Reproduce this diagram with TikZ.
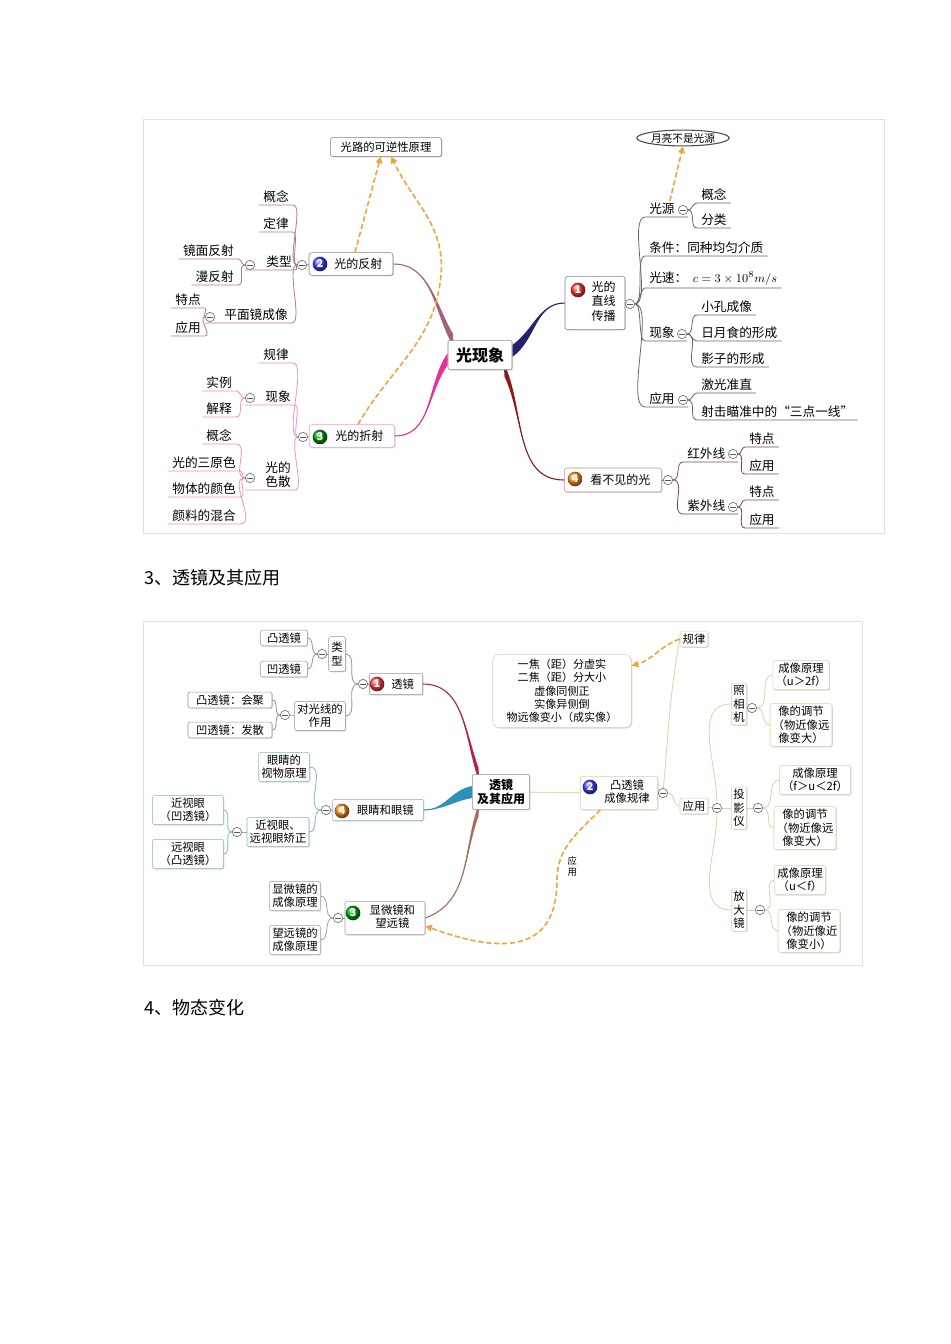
\documentclass[tikz,border=0pt]{standalone}
\usepackage{fontspec}
\setmainfont{Noto Sans CJK SC}
\usepackage{tikz}
\usetikzlibrary{arrows.meta, positioning, calc, shapes.geometric, shadows, backgrounds}

\definecolor{juhuang}{HTML}{F2A33A}
\definecolor{zangqing}{HTML}{22226E}
\definecolor{ouhe}{HTML}{A0607E}
\definecolor{yanhong}{HTML}{E4329A}
\definecolor{anhong}{HTML}{8A1B1B}
\definecolor{meihong}{HTML}{B0244E}
\definecolor{qinglan}{HTML}{2A92B4}
\definecolor{zongse}{HTML}{A86C5C}
\definecolor{mise}{HTML}{E2DCB6}
\definecolor{bian1}{HTML}{A8889A}
\definecolor{bian2}{HTML}{D8D2AA}
\definecolor{bian3}{HTML}{A0A0A0}
\definecolor{bian4}{HTML}{7EB6C6}

% tapered main branch: from, to, colour, out, in
\newcommand\cuxian[5]{%
  \fill[#3] ($(#1)+(0,6)$) to[out=#4,in=#5] (#2) to[out=#5,in=#4] ($(#1)+(0,-6)$) -- cycle;
  \draw[#3, line width=.8pt] (#1) to[out=#4,in=#5] (#2);}

\begin{document}
\begin{tikzpicture}[x=0.75pt, y=0.75pt,
    zhu/.style={draw=black!45, fill=white, rounded corners=1pt, inner sep=3pt, align=center,
                font=\fontsize{12}{14}\selectfont\bfseries,
                drop shadow={shadow xshift=.8pt, shadow yshift=-.8pt, opacity=.3}},
    kuang/.style={draw=black!50, fill=white, rounded corners=2pt, inner sep=2pt, align=center,
                  font=\fontsize{9}{11}\selectfont,
                  drop shadow={shadow xshift=.7pt, shadow yshift=-.7pt, opacity=.3}},
    kuang2/.style={kuang, font=\fontsize{8.5}{10}\selectfont, rounded corners=1.5pt},
    ye/.style={inner xsep=3pt, inner ysep=1.5pt, align=center, font=\fontsize{9.5}{11}\selectfont},
    shou/.style={circle, draw=black!55, fill=white, minimum size=7pt, inner sep=0pt, line width=.5pt,
                 path picture={\draw[black!65, line width=.6pt]
                   ([xshift=-2pt]path picture bounding box.center) -- ([xshift=2pt]path picture bounding box.center);}},
    biao/.style={circle, ball color=#1, minimum size=11pt, inner sep=0pt, text=white,
                 font=\fontsize{8}{8}\selectfont\bfseries},
    xu/.style={juhuang, dash pattern=on 4pt off 2pt, line width=1.2pt, -{Triangle[length=5pt, width=5pt]}},
    xian1/.style={draw=black!60, line width=.6pt},
    xian2/.style={draw=ouhe!85, line width=.6pt},
    xian3/.style={draw=yanhong!55, line width=.6pt},
    xian4/.style={draw=anhong!55!gray, line width=.6pt},
    xian21/.style={draw=bian1, line width=.6pt},
    xian22/.style={draw=bian2, line width=.6pt},
    xian23/.style={draw=bian3, line width=.6pt},
    xian24/.style={draw=bian4, line width=.6pt}
  ]
  \useasboundingbox (0,0) rectangle (950,-1344);
  \begin{scope}[on background layer]
    \fill[white] (0,0) rectangle (950,-1344);
    \draw[black!12] (143,-119) rectangle (884,-533);
    \draw[black!12] (143,-621) rectangle (862,-965);
  \end{scope}

  \node[anchor=west, inner sep=0pt, font=\fontsize{13.5}{16}\selectfont] (biaoti3) at (144,-578) {3、透镜及其应用};
  \node[anchor=west, inner sep=0pt, font=\fontsize{13.5}{16}\selectfont] (biaoti4) at (144,-1008) {4、物态变化};

  % ---------- 光现象 ----------
  \node[zhu, minimum width=48pt, minimum height=22pt] (gxx) at (480,-355) {光现象};
  \node[draw=black!50, fill=white, rounded corners=1pt, inner sep=1.5pt, minimum width=83pt, minimum height=14pt,
        font=\fontsize{8.5}{10}\selectfont, drop shadow={shadow xshift=.8pt, shadow yshift=-.8pt, opacity=.4}]
        (kn) at (386,-147) {光路的可逆性原理};
  \node[ellipse, draw=black!70, line width=.8pt, fill=white, inner sep=.5pt, font=\fontsize{8}{9}\selectfont] (yl) at (683,-138) {月亮不是光源};

  \node[kuang, minimum width=45pt, minimum height=40pt] (f1) at (595,-303)
       {\hspace{13pt}\begin{tabular}{@{}c@{}}光的\\直线\\传播\end{tabular}};
  \node[biao=red!80] (h1) at (578,-290) {1};
  \node[shou] (s1) at (630,-304) {};
  \node[kuang, minimum width=63pt, minimum height=17pt] (f2) at (351,-264) {\hspace{11pt}光的反射};
  \node[biao=blue!75] (h2) at (320,-264) {2};
  \node[shou] (s2) at (302,-265) {};
  \node[kuang, draw=yanhong!50, minimum width=64pt, minimum height=17pt] (f3) at (352,-436) {\hspace{11pt}光的折射};
  \node[biao=green!60!black] (h3) at (320,-437) {3};
  \node[shou] (s3) at (303,-437) {};
  \node[kuang, draw=anhong!50, minimum width=73pt, minimum height=18pt] (f4) at (613,-480) {\hspace{11pt}看不见的光};
  \node[biao=orange!90] (h4) at (575,-479) {4};
  \node[shou] (s4) at (668,-480) {};

  % 1 光的直线传播
  \node[ye, anchor=south west] (gy) at (645,-217) {光源};
  \node[shou] (sgy) at (683,-210) {};
  \node[ye, anchor=south west] (gy1) at (697,-203) {概念};
  \node[ye, anchor=south west] (gy2) at (697,-228) {分类};
  \node[ye, anchor=south west] (tj) at (645,-256) {条件：同种均匀介质};
  \node[ye, anchor=south west] (gs) at (645,-288) {光速：\ \ $c=3\times10^{8}m/s$};
  \node[ye, anchor=south west] (xx1) at (645,-341) {现象};
  \node[shou] (sxx1) at (682,-334) {};
  \node[ye, anchor=south west] (xx1a) at (697,-315) {小孔成像};
  \node[ye, anchor=south west] (xx1b) at (697,-341) {日月食的形成};
  \node[ye, anchor=south west] (xx1c) at (697,-367) {影子的形成};
  \node[ye, anchor=south west] (yy1) at (645,-407) {应用};
  \node[shou] (syy1) at (683,-400) {};
  \node[ye, anchor=south west] (yy1a) at (697,-393) {激光准直};
  \node[ye, anchor=south west] (yy1b) at (697,-420) {射击瞄准中的“三点一线”};

  % 4 看不见的光
  \node[ye, anchor=south west] (hw) at (683,-462) {红外线};
  \node[shou] (shw) at (733,-454) {};
  \node[ye, anchor=south west] (hw1) at (745,-447) {特点};
  \node[ye, anchor=south west] (hw2) at (745,-474) {应用};
  \node[ye, anchor=south west] (zw) at (683,-514) {紫外线};
  \node[shou] (szw) at (733,-507) {};
  \node[ye, anchor=south west] (zw1) at (745,-500) {特点};
  \node[ye, anchor=south west] (zw2) at (745,-528) {应用};

  % 2 光的反射
  \node[ye, anchor=south east] (gn2) at (293,-205) {概念};
  \node[ye, anchor=south east] (dl2) at (293,-232) {定律};
  \node[ye, anchor=south east] (lx2) at (296,-270) {类型};
  \node[shou] (slx2) at (250,-265) {};
  \node[ye, anchor=south east] (lx2a) at (238,-259) {镜面反射};
  \node[ye, anchor=south east] (lx2b) at (238,-285) {漫反射};
  \node[ye, anchor=south east] (pm2) at (292,-323) {平面镜成像};
  \node[shou] (spm2) at (210,-317) {};
  \node[ye, anchor=south east] (pm2a) at (205,-308) {特点};
  \node[ye, anchor=south east] (pm2b) at (205,-336) {应用};

  % 3 光的折射
  \node[ye, anchor=south east] (gl3) at (293,-363) {规律};
  \node[ye, anchor=south east] (xx3) at (295,-405) {现象};
  \node[shou] (sxx3) at (250,-398) {};
  \node[ye, anchor=south east] (xx3a) at (236,-391) {实例};
  \node[ye, anchor=south east] (xx3b) at (236,-417) {解释};
  \node[ye, anchor=south east] (ss3) at (295,-490) {光的\\色散};
  \node[shou] (sss3) at (250,-478) {};
  \node[ye, anchor=south east] (ss3a) at (236,-444) {概念};
  \node[ye, anchor=south east] (ss3b) at (240,-471) {光的三原色};
  \node[ye, anchor=south east] (ss3c) at (240,-497) {物体的颜色};
  \node[ye, anchor=south east] (ss3d) at (240,-524) {颜料的混合};

  % ---------- 透镜及其应用 ----------
  \node[zhu, font=\fontsize{9}{11}\selectfont\bfseries, minimum width=43pt, minimum height=26pt] (tj2) at (501,-792) {透镜\\及其应用};
  \node[kuang2, draw=bian1, minimum width=40pt, minimum height=16pt] (m1) at (396,-684) {\hspace{10pt}透镜};
  \node[biao=red!75] (hm1) at (377,-684) {1};
  \node[shou] (sm1) at (363,-684) {};
  \node[kuang2, draw=bian1, minimum height=26pt] (lx) at (337,-654) {类\\型};
  \node[shou] (slx) at (322,-654) {};
  \node[kuang2, draw=bian1, minimum width=35pt] (tt1) at (284,-638) {凸透镜};
  \node[kuang2, draw=bian1, minimum width=35pt] (at1) at (284,-669) {凹透镜};
  \node[kuang2, draw=bian1] (zy) at (320,-716) {对光线的\\作用};
  \node[shou] (szy) at (285,-715) {};
  \node[kuang2, draw=bian1, minimum width=63pt] (tt2) at (230,-700) {凸透镜：会聚};
  \node[kuang2, draw=bian1, minimum width=63pt] (at2) at (230,-730) {凹透镜：发散};

  \node[kuang2, draw=bian4, minimum width=68pt, minimum height=16pt] (m4) at (378,-810) {\hspace{11pt}眼睛和眼镜};
  \node[biao=orange!90] (hm4) at (342,-811) {4};
  \node[shou] (sm4) at (326,-810) {};
  \node[kuang2, draw=bian4] (yj) at (284,-767) {眼睛的\\视物原理};
  \node[kuang2, draw=bian4] (jz) at (278,-832) {近视眼、\\远视眼矫正};
  \node[shou] (sjz) at (237,-832) {};
  \node[kuang2, draw=bian4, minimum width=53pt] (jsy) at (188,-810) {近视眼\\（凹透镜）};
  \node[kuang2, draw=bian4, minimum width=53pt] (ysy) at (188,-854) {远视眼\\（凸透镜）};

  \node[kuang2, draw=bian3, minimum width=60pt, minimum height=25pt] (m3) at (385,-918)
       {\hspace{11pt}\begin{tabular}{@{}c@{}}显微镜和\\望远镜\end{tabular}};
  \node[biao=green!65!black] (hm3) at (353,-913) {3};
  \node[shou] (sm3) at (338,-918) {};
  \node[kuang2, draw=bian3] (xw) at (295,-896) {显微镜的\\成像原理};
  \node[kuang2, draw=bian3] (wy) at (295,-940) {望远镜的\\成像原理};

  \node[kuang2, draw=bian2, minimum width=58pt, minimum height=25pt] (m2) at (619,-793)
       {\hspace{12pt}\begin{tabular}{@{}c@{}}凸透镜\\成像规律\end{tabular}};
  \node[biao=blue!75] (hm2) at (590,-787) {2};
  \node[shou] (sm2) at (663,-793) {};
  \node[kuang2, draw=bian2] (gl) at (694,-639) {规律};
  \node[kuang2, draw=bian2, rounded corners=5pt, minimum width=104pt, minimum height=55pt,
        font=\fontsize{8.3}{10}\selectfont] (kj) at (562,-691)
       {一焦（距）分虚实\\二焦（距）分大小\\虚像同侧正\\实像异侧倒\\物远像变小（成实像）};
  \node[kuang2, draw=bian2] (yy) at (694,-806) {应用};
  \node[shou] (syy) at (717,-808) {};
  \node[kuang2, draw=bian2, inner xsep=1.5pt] (zx) at (739,-704) {照\\相\\机};
  \node[shou] (szx) at (752,-708) {};
  \node[kuang2, draw=bian2] (zx1) at (801,-675) {成像原理\\（u＞2f）};
  \node[kuang2, draw=bian2] (zx2) at (801,-725) {像的调节\\（物近像远\\像变大）};
  \node[kuang2, draw=bian2, inner xsep=1.5pt] (ty) at (739,-808) {投\\影\\仪};
  \node[shou] (sty) at (758,-808) {};
  \node[kuang2, draw=bian2] (ty1) at (815,-780) {成像原理\\（f＞u＜2f）};
  \node[kuang2, draw=bian2] (ty2) at (805,-828) {像的调节\\（物近像远\\像变大）};
  \node[kuang2, draw=bian2, inner xsep=1.5pt] (fd) at (739,-910) {放\\大\\镜};
  \node[shou] (sfd) at (760,-910) {};
  \node[kuang2, draw=bian2] (fd1) at (800,-880) {成像原理\\（u＜f）};
  \node[kuang2, draw=bian2] (fd2) at (809,-931) {像的调节\\（物近像近\\像变小）};

  \begin{scope}[on background layer]
    % main branches
    \cuxian{[yshift=3pt]gxx.east}{f1.west}{zangqing}{35}{180}
    \cuxian{[xshift=4pt]gxx.north west}{f2.east}{ouhe}{120}{0}
    \cuxian{[yshift=-3pt]gxx.west}{f3.east}{yanhong}{-125}{0}
    \cuxian{[xshift=-6pt]gxx.south east}{f4.west}{anhong}{-65}{180}
    % 1
    \draw[xian1] (f1) -- (s1);
    \draw[xian1] (s1) to[out=0,in=180,looseness=.5] (gy.south west) -- (gy.south west -| sgy.east);
    \draw[xian1] (s1) to[out=0,in=180,looseness=.5] (tj.south west) -- (tj.south east);
    \draw[xian1] (s1) to[out=0,in=180,looseness=.5] (gs.south west) -- (gs.south east);
    \draw[xian1] (s1) to[out=0,in=180,looseness=.5] (xx1.south west) -- (xx1.south west -| sxx1.east);
    \draw[xian1] (s1) to[out=0,in=180,looseness=.5] (yy1.south west) -- (yy1.south west -| syy1.east);
    \foreach \a/\b in {sgy/gy1, sgy/gy2, sxx1/xx1a, sxx1/xx1b, sxx1/xx1c, syy1/yy1a, syy1/yy1b}
      \draw[xian1] (\a) to[out=0,in=180] (\b.south west) -- (\b.south east);
    % 4
    \draw[xian4] (f4) -- (s4);
    \draw[xian4] (s4) to[out=0,in=180] (hw.south west) -- (hw.south west -| shw.east);
    \draw[xian4] (s4) to[out=0,in=180] (zw.south west) -- (zw.south west -| szw.east);
    \foreach \a/\b in {shw/hw1, shw/hw2, szw/zw1, szw/zw2}
      \draw[xian4] (\a) to[out=0,in=180] (\b.south west) -- (\b.south east);
    % 2
    \draw[xian2] (f2) -- (s2);
    \draw[xian2] (s2) to[out=180,in=0,looseness=.5] (gn2.south east) -- (gn2.south west);
    \draw[xian2] (s2) to[out=180,in=0,looseness=.5] (dl2.south east) -- (dl2.south west);
    \draw[xian2] (s2) to[out=180,in=0,looseness=.5] (lx2.south east) -- (lx2.south east -| slx2.west);
    \draw[xian2] (s2) to[out=180,in=0,looseness=.5] (pm2.south east) -- (pm2.south east -| spm2.west);
    \foreach \a/\b in {slx2/lx2a, slx2/lx2b, spm2/pm2a, spm2/pm2b}
      \draw[xian2] (\a) to[out=180,in=0] (\b.south east) -- (\b.south west);
    % 3
    \draw[xian3] (f3) -- (s3);
    \draw[xian3] (s3) to[out=180,in=0,looseness=.5] (gl3.south east) -- (gl3.south west);
    \draw[xian3] (s3) to[out=180,in=0,looseness=.5] (xx3.south east) -- (xx3.south east -| sxx3.west);
    \draw[xian3] (s3) to[out=180,in=0,looseness=.5] (ss3.south east) -- (ss3.south east -| sss3.west);
    \foreach \a/\b in {sxx3/xx3a, sxx3/xx3b, sss3/ss3a, sss3/ss3b, sss3/ss3c, sss3/ss3d}
      \draw[xian3] (\a) to[out=180,in=0] (\b.south east) -- (\b.south west);

    % lens map
    \cuxian{[xshift=5pt]tj2.north west}{m1.east}{meihong}{110}{0}
    \cuxian{tj2.west}{m4.east}{qinglan}{190}{0}
    \cuxian{[xshift=5pt]tj2.south west}{m3.east}{zongse}{-110}{20}
    \draw[mise, line width=.8pt] (tj2) -- (m2);
    \draw[xian21] (m1) -- (sm1);
    \draw[xian21] (sm1) to[out=180,in=0] (lx.east);
    \draw[xian21] (sm1) to[out=180,in=0] (zy.east);
    \draw[xian21] (slx) -- (lx);
    \draw[xian21] (szy) -- (zy);
    \foreach \a/\b in {slx/tt1, slx/at1, szy/tt2, szy/at2}
      \draw[xian21] (\a) to[out=180,in=0] (\b.east);
    \draw[xian24] (m4) -- (sm4);
    \draw[xian24] (sm4) to[out=180,in=0] (yj.east);
    \draw[xian24] (sm4) to[out=180,in=0] (jz.east);
    \draw[xian24] (sjz) -- (jz);
    \draw[xian24] (sjz) to[out=180,in=0] (jsy.east);
    \draw[xian24] (sjz) to[out=180,in=0] (ysy.east);
    \draw[xian23] (m3) -- (sm3);
    \draw[xian23] (sm3) to[out=180,in=0] (xw.east);
    \draw[xian23] (sm3) to[out=180,in=0] (wy.east);
    \draw[xian22] (m2) -- (sm2);
    \draw[xian22] (sm2) to[out=85,in=-100] (gl.west);
    \draw[xian22] (sm2) to[out=0,in=180] (yy.west);
    \draw[xian22] (yy) -- (syy);
    \draw[xian22] (syy) to[out=90,in=180] (zx.west);
    \draw[xian22] (syy) -- (ty.west);
    \draw[xian22] (syy) to[out=-90,in=180] (fd.west);
    \draw[xian22] (zx) -- (szx);
    \draw[xian22] (ty) -- (sty);
    \draw[xian22] (fd) -- (sfd);
    \foreach \a/\b in {szx/zx1, szx/zx2, sty/ty1, sty/ty2, sfd/fd1, sfd/fd2}
      \draw[xian22] (\a) to[out=0,in=180] (\b.west);
  \end{scope}

  % dashed links
  \coordinate (zhe) at (441,-275);
  \draw[xu] ([xshift=3pt]f2.north) -- ([xshift=-4pt]kn.south);
  \draw[xu] ([xshift=4.5pt]f3.north) to[out=60,in=-95] (zhe) to[out=85,in=-65] ([xshift=4pt]kn.south);
  \draw[xu] ([xshift=6pt]gy.north) -- (yl.south);
  \draw[xu] (gl.west) to[out=200,in=15] ([yshift=19pt]kj.east);
  \coordinate (yyd) at (557,-880);
  \draw[xu] ([xshift=-14pt]m2.south) to[out=-135,in=90]
        node[pos=.85, right=3pt, black, font=\fontsize{7}{8}\selectfont, align=center] (yylb) {应\\用} (yyd)
        to[out=-90,in=-20, looseness=1.4] ([yshift=-6pt]m3.east);
\end{tikzpicture}
\end{document}
